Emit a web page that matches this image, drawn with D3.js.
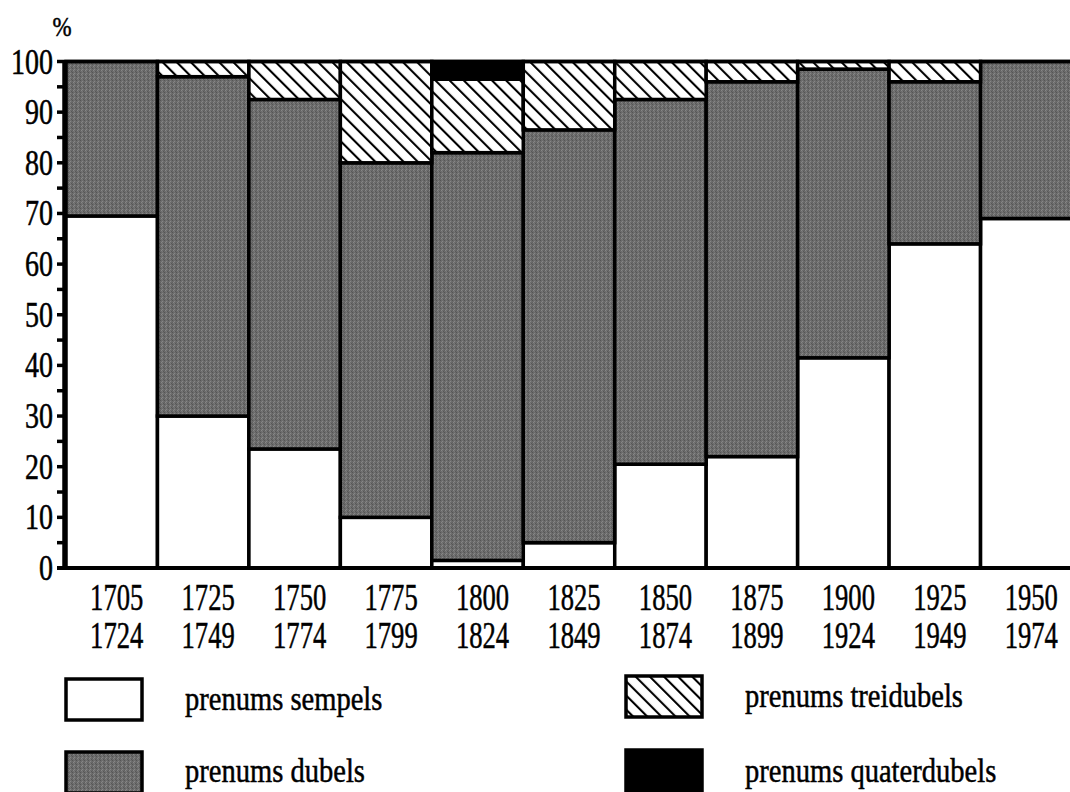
<!DOCTYPE html>
<html>
<head>
<meta charset="utf-8">
<script src="https://cdn.jsdelivr.net/npm/d3@7"></script>
<style>
  html, body { margin: 0; padding: 0; background: #fff; }
  svg { display: block; }
  text { font-family: "Liberation Serif", "DejaVu Serif", serif; fill: #000; stroke: #000; stroke-width: 0.5px; }
</style>
</head>
<body>
<svg id="chart" width="1070" height="792"></svg>
<script>
// ---- data ----
const startYears = ["1705","1725","1750","1775","1800","1825","1850","1875","1900","1925","1950"];
const endYears   = ["1724","1749","1774","1799","1824","1849","1874","1899","1924","1949","1974"];
const sempels      = [69.5, 30, 23.5, 10, 1.5, 5, 20.5, 22, 41.5, 64, 69];
const dubels       = [30.5, 67, 69, 70, 80.5, 81.5, 72, 74, 57, 32, 31];
const treidubels   = [0, 3, 7.5, 20, 14.5, 13.5, 7.5, 4, 1.5, 4, 0];
const quaterdubels = [0, 0, 0, 0, 3.5, 0, 0, 0, 0, 0, 0];
const seriesKeys   = ["sempels", "dubels", "treidubels", "quaterdubels"];
const seriesLabels = ["prenums sempels", "prenums dubels", "prenums treidubels", "prenums quaterdubels"];
const yTicks = d3.range(0, 101, 5);
const yLabels = d3.range(0, 101, 10);

// ---- build ----
const svg = d3.select("#chart");
const defs = svg.append("defs");

// textured grey
const grey = defs.append("pattern").attr("id", "grey")
  .attr("patternUnits", "userSpaceOnUse").attr("width", 4).attr("height", 4);
grey.append("rect").attr("width", 4).attr("height", 4).attr("fill", "#6c6c6c");
[[0,0,"#555"],[2,1,"#878787"],[1,2,"#878787"],[3,3,"#575757"],[2,3,"#797979"],[0,2,"#5f5f5f"]].forEach(([x,y,c]) =>
  grey.append("rect").attr("x", x).attr("y", y).attr("width", 1).attr("height", 1).attr("fill", c));

// diagonal hatch "\\\"
const hatch = defs.append("pattern").attr("id", "hatch")
  .attr("patternUnits", "userSpaceOnUse").attr("width", 10).attr("height", 10)
  .attr("patternTransform", "rotate(-45)");
hatch.append("rect").attr("width", 10).attr("height", 10).attr("fill", "#fff");
hatch.append("line").attr("x1", 1).attr("y1", 0).attr("x2", 1).attr("y2", 10)
  .attr("stroke", "#000").attr("stroke-width", 2.2);

const fills = { sempels: "#fff", dubels: "url(#grey)", treidubels: "url(#hatch)", quaterdubels: "#000" };

const x = d3.scaleBand().domain(d3.range(startYears.length)).range([66, 1072]).padding(0);
const y = d3.scaleLinear().domain([0, 100]).range([568, 61.5]);

const rows = startYears.map((s, i) => ({
  i, sempels: sempels[i], dubels: dubels[i], treidubels: treidubels[i], quaterdubels: quaterdubels[i]
}));
const stacked = d3.stack().keys(seriesKeys)(rows);

const bars = svg.append("g");
stacked.forEach(layer => {
  bars.selectAll(null)
    .data(layer.filter(d => d[1] - d[0] > 0))
    .join("rect")
    .attr("x", d => x(d.data.i))
    .attr("width", x.bandwidth())
    .attr("y", d => y(d[1]))
    .attr("height", d => y(d[0]) - y(d[1]))
    .attr("fill", fills[layer.key])
    .attr("stroke", "#000")
    .attr("stroke-width", 3.5);
});

// top line at 100
svg.append("line").attr("x1", 64).attr("x2", 1070).attr("y1", y(100)).attr("y2", y(100))
  .attr("stroke", "#000").attr("stroke-width", 3.5);

// y axis
const yAxis = svg.append("g");
yAxis.append("line").attr("x1", 64).attr("x2", 64).attr("y1", y(0) + 2).attr("y2", y(100) - 1.5)
  .attr("stroke", "#000").attr("stroke-width", 3.5);
yAxis.selectAll(".tk").data(yTicks).join("line")
  .attr("x1", 57).attr("x2", 64).attr("y1", d => y(d)).attr("y2", d => y(d))
  .attr("stroke", "#000").attr("stroke-width", 3.5);
yAxis.selectAll(".lb").data(yLabels).join("text")
  .attr("transform", d => `translate(53,${y(d) + 12}) scale(0.8,1)`)
  .attr("text-anchor", "end")
  .attr("font-size", 35)
  .text(d => d);

// x axis baseline
svg.append("line").attr("x1", 57).attr("x2", 1070).attr("y1", y(0)).attr("y2", y(0))
  .attr("stroke", "#000").attr("stroke-width", 4);

// x labels
const xl = svg.append("g");
startYears.forEach((s, i) => {
  const cx = x(i) + x.bandwidth() / 2 + 5;
  xl.append("text").attr("transform", `translate(${cx},610) scale(0.72,1)`)
    .attr("text-anchor", "middle").attr("font-size", 37).text(s);
  xl.append("text").attr("transform", `translate(${cx},648) scale(0.72,1)`)
    .attr("text-anchor", "middle").attr("font-size", 37).text(endYears[i]);
});

// % label
svg.append("text").attr("transform", "translate(62,36) scale(0.85,1)").attr("text-anchor", "middle")
  .attr("font-size", 27).text("%");

// legend
const legendPos = [
  { bx: 66, by: 679, tx: 185, ty: 710 },
  { bx: 66, by: 752, tx: 185, ty: 782 },
  { bx: 626, by: 676, tx: 745, ty: 707 },
  { bx: 626, by: 750, tx: 745, ty: 782 }
];
const lg = svg.append("g");
seriesKeys.forEach((k, i) => {
  const p = legendPos[i];
  lg.append("rect").attr("x", p.bx).attr("y", p.by).attr("width", 76).attr("height", 41)
    .attr("fill", fills[k]).attr("stroke", "#000").attr("stroke-width", 3.5);
  lg.append("text").attr("transform", `translate(${p.tx},${p.ty}) scale(0.84,1)`)
    .attr("font-size", 34).text(seriesLabels[i]);
});
</script>
</body>
</html>
